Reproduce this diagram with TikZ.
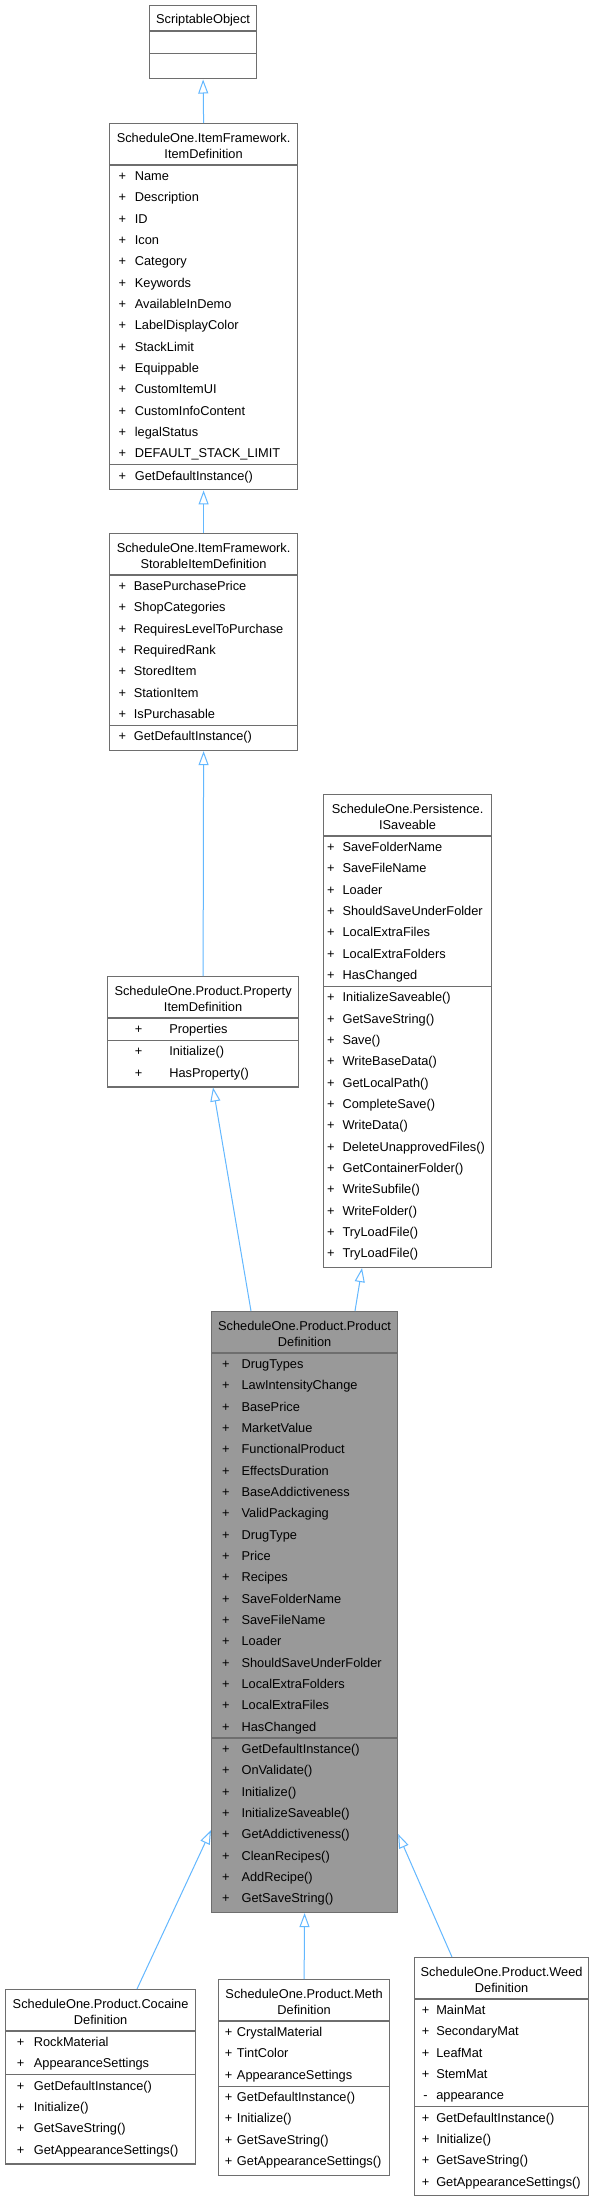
\documentclass[tikz,border=0pt]{standalone}
\usepackage{fontspec}
\setmainfont{Liberation Sans}
\usetikzlibrary{arrows.meta,shapes.multipart}

\definecolor{edgeblue}{HTML}{63B8FF}
\definecolor{boxline}{HTML}{6E6E6E}
\definecolor{focusfill}{HTML}{999999}

% class title, one or two lines
\newcommand{\clsone}[2]{{\fontsize{12.8}{15.3}\selectfont\begin{tabular}{@{}c@{}}\rule{0pt}{17.8pt}\rule[-6.5pt]{0pt}{0pt}\makebox[#1]{#2}\end{tabular}}}
\newcommand{\clstitle}[3]{{\fontsize{12.8}{15.3}\selectfont\begin{tabular}{@{}c@{}}\rule{0pt}{18.5pt}\makebox[#1]{#2}\\#3\rule[-6.3pt]{0pt}{0pt}\end{tabular}}}
% member rows: indent of sign, gap before name
\newcommand{\clsattrs}[3]{{\fontsize{12.8}{21.33}\selectfont\begin{tabular}{@{\hspace{#1}}c@{\hspace{#2}}l@{}}#3\end{tabular}}}
\newcommand{\clsops}[3]{\clsattrs{#1}{#2}{#3\rule[-9pt]{0pt}{0pt}}}

\tikzset{
  cls/.style={rectangle split, rectangle split parts=3, rectangle split part align=left,
    draw=boxline, line width=1.2pt, fill=white, inner sep=0pt, anchor=north west},
  focus/.style={cls, fill=focusfill},
  inherit/.style={draw=edgeblue, line width=1pt, -{Triangle[open,length=14pt,width=10pt]}}
}

\begin{document}
\begin{tikzpicture}[x=1pt,y=-1pt]
  \fill[white] (0,0) rectangle (594,2197);

  % we draw the base classes
  \node[cls] (so) at (149,5) {\clsone{107pt}{ScriptableObject}%
    \nodepart{two}\rule{0pt}{21.4pt}%
    \nodepart{three}\rule{0pt}{24pt}};

  \node[cls] (itemdef) at (109,123) {\clstitle{188pt}{ScheduleOne.ItemFramework.}{ItemDefinition}%
    \nodepart{two}\clsattrs{8.95pt}{8.85pt}{+ & Name\\ + & Description\\ + & ID\\ + & Icon\\ + & Category\\ + & Keywords\\ + & AvailableInDemo\\ + & LabelDisplayColor\\ + & StackLimit\\ + & Equippable\\ + & CustomItemUI\\ + & CustomInfoContent\\ + & legalStatus\\ + & DEFAULT\_STACK\_LIMIT}%
    \nodepart{three}\clsops{8.95pt}{8.85pt}{+ & GetDefaultInstance()}};

  \node[cls] (storable) at (109,533) {\clstitle{188pt}{ScheduleOne.ItemFramework.}{StorableItemDefinition}%
    \nodepart{two}\clsattrs{8.95pt}{7.85pt}{+ & BasePurchasePrice\\ + & ShopCategories\\ + & RequiresLevelToPurchase\\ + & RequiredRank\\ + & StoredItem\\ + & StationItem\\ + & IsPurchasable}%
    \nodepart{three}\clsops{8.95pt}{7.85pt}{+ & GetDefaultInstance()}};

  \node[cls] (saveable) at (323,794) {\clstitle{168pt}{ScheduleOne.Persistence.}{ISaveable}%
    \nodepart{two}\clsattrs{3.55pt}{7.95pt}{+ & SaveFolderName\\ + & SaveFileName\\ + & Loader\\ + & ShouldSaveUnderFolder\\ + & LocalExtraFiles\\ + & LocalExtraFolders\\ + & HasChanged}%
    \nodepart{three}\clsops{3.55pt}{7.95pt}{+ & InitializeSaveable()\\ + & GetSaveString()\\ + & Save()\\ + & WriteBaseData()\\ + & GetLocalPath()\\ + & CompleteSave()\\ + & WriteData()\\ + & DeleteUnapprovedFiles()\\ + & GetContainerFolder()\\ + & WriteSubfile()\\ + & WriteFolder()\\ + & TryLoadFile()\\ + & TryLoadFile()}};

  \node[cls] (propdef) at (107,976) {\clstitle{191pt}{ScheduleOne.Product.Property}{ItemDefinition}%
    \nodepart{two}\clsattrs{27.25pt}{26.95pt}{+ & Properties}%
    \nodepart{three}\clsops{27.25pt}{26.95pt}{+ & Initialize()\\ + & HasProperty()}};

  % we draw the focus class
  \node[focus] (product) at (211,1311) {\clstitle{186pt}{ScheduleOne.Product.Product}{Definition}%
    \nodepart{two}\clsattrs{10.55pt}{11.95pt}{+ & DrugTypes\\ + & LawIntensityChange\\ + & BasePrice\\ + & MarketValue\\ + & FunctionalProduct\\ + & EffectsDuration\\ + & BaseAddictiveness\\ + & ValidPackaging\\ + & DrugType\\ + & Price\\ + & Recipes\\ + & SaveFolderName\\ + & SaveFileName\\ + & Loader\\ + & ShouldSaveUnderFolder\\ + & LocalExtraFolders\\ + & LocalExtraFiles\\ + & HasChanged}%
    \nodepart{three}\clsops{10.55pt}{11.95pt}{+ & GetDefaultInstance()\\ + & OnValidate()\\ + & Initialize()\\ + & InitializeSaveable()\\ + & GetAddictiveness()\\ + & CleanRecipes()\\ + & AddRecipe()\\ + & GetSaveString()}};

  % we draw the derived classes
  \node[cls] (cocaine) at (5,1989) {\clstitle{190pt}{ScheduleOne.Product.Cocaine}{Definition}%
    \nodepart{two}\clsattrs{11.25pt}{9.55pt}{+ & RockMaterial\\ + & AppearanceSettings}%
    \nodepart{three}\clsops{11.25pt}{9.55pt}{+ & GetDefaultInstance()\\ + & Initialize()\\ + & GetSaveString()\\ + & GetAppearanceSettings()}};

  \node[cls] (meth) at (218,1979) {\clstitle{171pt}{ScheduleOne.Product.Meth}{Definition}%
    \nodepart{two}\clsattrs{6.25pt}{4.65pt}{+ & CrystalMaterial\\ + & TintColor\\ + & AppearanceSettings}%
    \nodepart{three}\clsops{6.25pt}{4.65pt}{+ & GetDefaultInstance()\\ + & Initialize()\\ + & GetSaveString()\\ + & GetAppearanceSettings()}};

  \node[cls] (weed) at (414,1957) {\clstitle{174pt}{ScheduleOne.Product.Weed}{Definition}%
    \nodepart{two}\clsattrs{7.25pt}{6.95pt}{+ & MainMat\\ + & SecondaryMat\\ + & LeafMat\\ + & StemMat\\ - & appearance}%
    \nodepart{three}\clsops{7.25pt}{6.95pt}{+ & GetDefaultInstance()\\ + & Initialize()\\ + & GetSaveString()\\ + & GetAppearanceSettings()}};

  % we draw the inheritance arrows
  \draw[inherit] (itemdef.north) -- (so.south);
  \draw[inherit] (storable.north) -- (itemdef.south);
  \draw[inherit] (propdef.north) -- (storable.south);
  \draw[inherit] ([xshift=40pt]product.north west) -- ([xshift=106pt]propdef.south west);
  \draw[inherit] ([xshift=144pt]product.north west) -- ([xshift=39pt]saveable.south west);
  \draw[inherit] ([xshift=132pt]cocaine.north west) -- ([yshift=83pt]product.south west);
  \draw[inherit] (meth.north) -- (product.south);
  \draw[inherit] ([xshift=38pt]weed.north west) -- ([yshift=79pt]product.south east);
\end{tikzpicture}
\end{document}
